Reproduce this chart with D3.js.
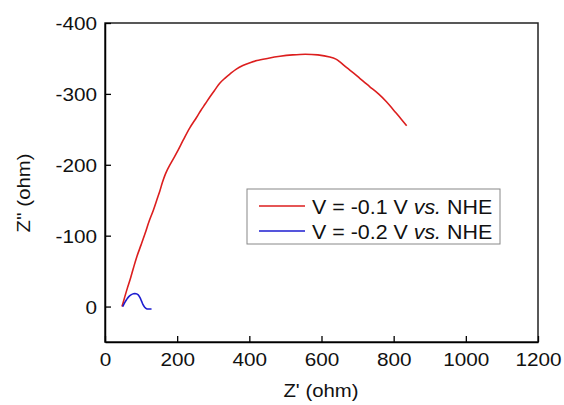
<!DOCTYPE html>
<html><head><meta charset="utf-8">
<script src="https://cdn.jsdelivr.net/npm/d3@7/dist/d3.min.js"></script>
<style>body{margin:0;background:#fff}svg{display:block}text{font-family:"Liberation Sans",Arial,sans-serif;fill:#111}</style>
</head><body>
<svg id="c" width="564" height="405"></svg>
<script>
const xTicks = [0, 200, 400, 600, 800, 1000, 1200];
const yTicks = [-400, -300, -200, -100, 0];
const seriesNames = ["V = -0.1 V ", "V = -0.2 V "];
const redZ = [47,50,55,62,69,78,88,100,111,122,134,144,152,159,166,172,178,189,203,217,235,254,266,278,291,305,318,332,346,364,382,402,421,450,485,520,555,590,623,640,651,670,690,706,720,734,758,780,800,820,836];
const redZZ = [0,-5,-14,-26,-37,-53,-70,-87,-103,-120,-136,-151,-163,-175,-185,-192,-198,-208,-221,-235,-252,-267,-277,-286,-296,-306,-315,-322,-328,-335,-340,-344,-347,-350,-353,-355,-356,-355,-352,-349,-345,-337,-329,-322,-316,-310,-300,-289,-277,-265,-255];
const blueZ = [49,55,60,66,72,79,86,92,97,101,105,110,115,122,129];
const blueZZ = [0,-6,-10,-14,-16.5,-18,-18,-16.5,-12.5,-8,-3,1,3,3.5,3.5];

const svg = d3.select("#c");
const L = 105, R = 538, T = 23, B = 342;
const x = d3.scaleLinear().domain([0, 1200]).range([L, R]);
const y = d3.scaleLinear().domain([-400, 50]).range([T, B]);

function stretch(sel, k) {
  sel.each(function () {
    const w = this.getComputedTextLength();
    this.setAttribute("textLength", w * k);
    this.setAttribute("lengthAdjust", "spacingAndGlyphs");
  });
}
const fmt = d => String(d);

// frame
svg.append("rect").attr("x", L).attr("y", T).attr("width", R - L).attr("height", B - T)
  .attr("fill", "none").attr("stroke", "#222").attr("stroke-width", 1.5);

// axes with inward ticks
const gx = svg.append("g").attr("transform", `translate(0,${B})`)
  .call(d3.axisBottom(x).tickValues(xTicks).tickSizeInner(-6).tickSizeOuter(0).tickPadding(14).tickFormat(fmt));
const gy = svg.append("g").attr("transform", `translate(${L},0)`)
  .call(d3.axisLeft(y).tickValues(yTicks).tickSizeInner(-6).tickSizeOuter(0).tickPadding(14).tickFormat(fmt));
[gx, gy].forEach(g => {
  g.select(".domain").attr("stroke", "#000").attr("stroke-width", 1.5);
  g.selectAll(".tick line").attr("stroke", "#000").attr("stroke-width", 1.3);
  g.selectAll(".tick text").attr("font-size", 18.5).attr("fill", "#111")
    .style("font-family", '"Liberation Sans", Arial, sans-serif');
});
gx.selectAll(".tick text").attr("dy", null).attr("y", 24);
gy.selectAll(".tick text").attr("dy", "0.36em").attr("x", -8);
stretch(gx.selectAll(".tick text"), 1.12);
stretch(gy.selectAll(".tick text"), 1.12);

// axis titles
const xt = svg.append("text").attr("x", 321).attr("y", 397).attr("text-anchor", "middle")
  .attr("font-size", 18.5).text("Z' (ohm)");
stretch(xt, 1.1);
const yt = svg.append("text").attr("transform", "translate(30,193) rotate(-90)").attr("text-anchor", "middle")
  .attr("font-size", 18.5).text("Z'' (ohm)");
stretch(yt, 1.1);

// lines
const line = d3.line().x(d => x(d[0])).y(d => y(d[1])).curve(d3.curveCatmullRom.alpha(0.5));
svg.append("path").datum(redZ.map((v, i) => [v, redZZ[i]]))
  .attr("d", line).attr("fill", "none").attr("stroke", "#dc1e1e").attr("stroke-width", 1.6).attr("stroke-linejoin", "round");
svg.append("path").datum(blueZ.map((v, i) => [v, blueZZ[i]]))
  .attr("d", line).attr("fill", "none").attr("stroke", "#1c1cd0").attr("stroke-width", 1.6).attr("stroke-linejoin", "round");

// legend
const lg = svg.append("g");
lg.append("rect").attr("x", 247).attr("y", 189).attr("width", 253).attr("height", 55)
  .attr("fill", "#fff").attr("stroke", "#888").attr("stroke-width", 1);
const colors = ["#dc1e1e", "#1c1cd0"];
seriesNames.forEach((nm, i) => {
  const cy = 206 + i * 25;
  lg.append("line").attr("x1", 259).attr("x2", 305).attr("y1", cy).attr("y2", cy)
    .attr("stroke", colors[i]).attr("stroke-width", 1.3);
  const t = lg.append("text").attr("x", 312).attr("y", cy + 7.5).attr("font-size", 20);
  t.append("tspan").text(nm);
  t.append("tspan").attr("font-style", "italic").text("vs.");
  t.append("tspan").text(" NHE");
  const w = t.node().getComputedTextLength();
  t.attr("textLength", w * 1.07).attr("lengthAdjust", "spacingAndGlyphs");
});
</script>
</body></html>
